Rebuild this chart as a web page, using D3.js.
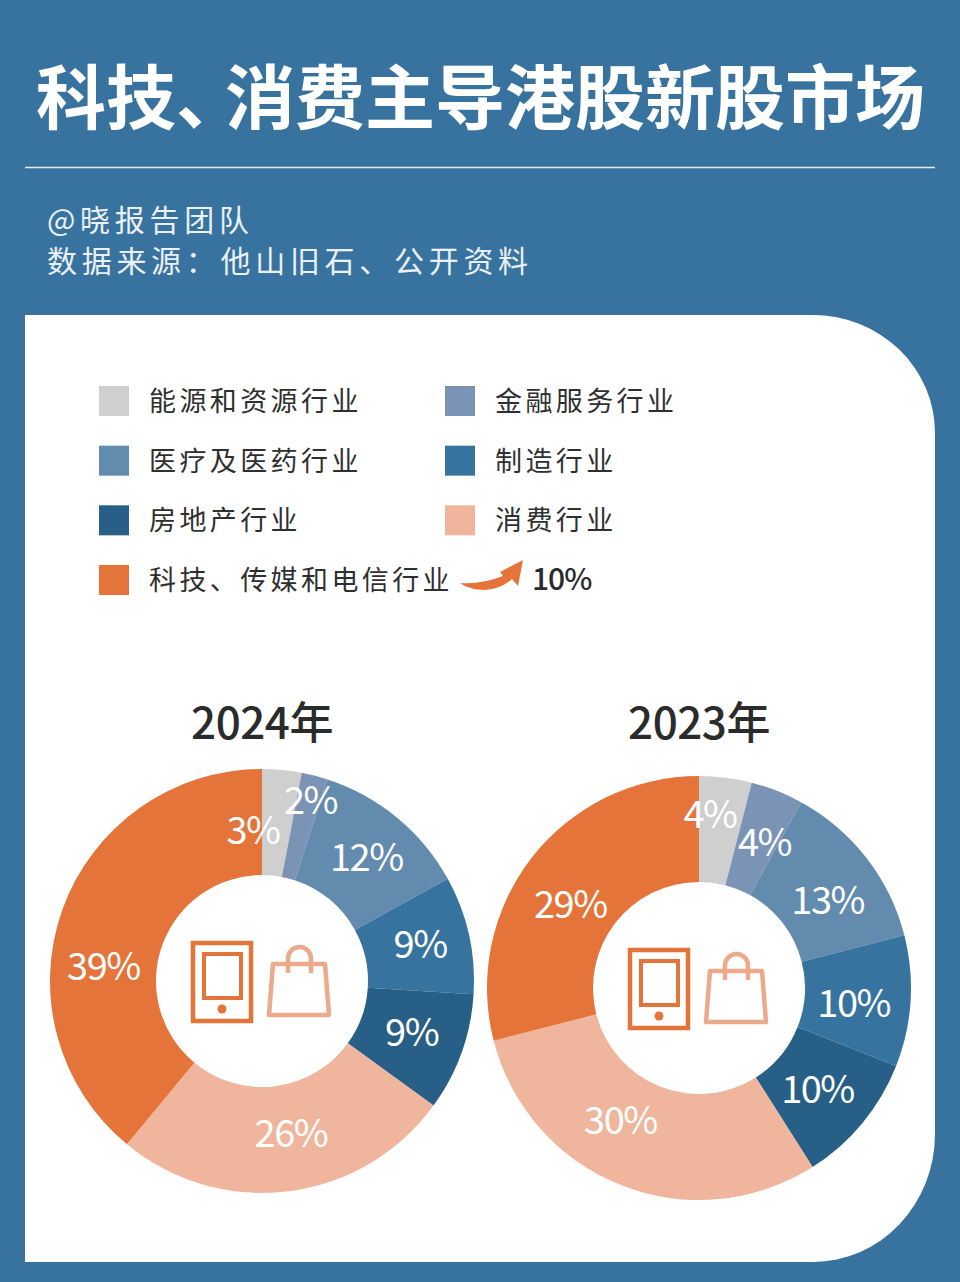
<!DOCTYPE html>
<html>
<head>
<meta charset="utf-8">
<script src="https://cdn.jsdelivr.net/npm/d3@7"></script>
<style>
html,body{margin:0;padding:0;background:#38739f;}
svg{display:block;}
text{font-family:"Noto Sans CJK SC","Noto Sans",sans-serif;}
</style>
</head>
<body>
<div class="chart"></div>
<script>
const categories = ['能源和资源行业','金融服务行业','医疗及医药行业','制造行业','房地产行业','消费行业','科技、传媒和电信行业'];
const colors = ['#cfcfcf','#7b93b5','#638bae','#37739f','#285f86','#f0b69d','#e4743a'];
const values2024 = [3,2,12,9,9,26,39];
const values2023 = [4,4,13,10,10,30,29];
const years = ['2024年','2023年'];
const titleParts = ['科技','、','消费主导港股新股市场'];
const subLines = ['@晓报告团队','数据来源\uFF1A他山旧石、公开资料'];
const arrowLabel = '10%';

const width = 960, height = 1282;
const svg = d3.select(".chart").append("svg")
	.attr("width", width)
	.attr("height", height);

svg.append("rect").attr("width", width).attr("height", height).attr("fill", "#38739f");

//Title, the 、 is tighter than a full em in the original
const title = svg.append("text")
	.attr("x", 36).attr("y", 124)
	.attr("font-size", 70)
	.attr("font-weight", 700)
	.attr("fill", "#fff");
title.append("tspan").text(titleParts[0]);
title.append("tspan").attr("letter-spacing", -21).text(titleParts[1]);
title.append("tspan").text(titleParts[2]);

svg.append("line")
	.attr("x1", 25).attr("x2", 935)
	.attr("y1", 167.5).attr("y2", 167.5)
	.attr("stroke", "#e3ecf3").attr("stroke-width", 1.4);

svg.selectAll(".sub")
	.data(subLines)
	.enter()
	.append("text")
	.attr("class", "sub")
	.attr("x", 47)
	.attr("y", (d,i)=>231 + i*41)
	.attr("font-size", 30)
	.attr("letter-spacing", 4.7)
	.attr("fill", "#eaf0f5")
	.text(d=>d);

//White panel
svg.append("path")
	.attr("d", "M25,315H813A122,118 0 0 1 935,433V1134A122,128 0 0 1 813,1262H25Z")
	.attr("fill", "#fff");

//Legend
const legendCol = d3.scalePoint().domain([0,1]).range([99,445]);
const legendRow = d3.scalePoint().domain([0,1,2,3]).range([386,565]);

const legend = svg.selectAll(".legend")
	.data(categories)
	.enter()
	.append("g")
	.attr("class", "legend")
	.attr("transform", (d,i)=>`translate(${legendCol(i%2)},${legendRow(Math.floor(i/2))})`);

legend.append("rect")
	.attr("width", 30).attr("height", 30)
	.attr("fill", (d,i)=>colors[i]);

legend.append("text")
	.attr("x", 50).attr("y", 25)
	.attr("font-size", 27)
	.attr("letter-spacing", 3.4)
	.attr("fill", "#2f2f2f")
	.text(d=>d);

//Arrow after the last legend row
svg.append("path")
	.attr("d", "M460,583 C475,584 490,581 503,576 L500,572 L523,560 L518,586 L512,579 C500,590 478,595 460,583Z")
	.attr("fill", "#e4743a");

svg.append("text")
	.attr("x", 532).attr("y", 590)
	.attr("font-size", 30)
	.attr("font-family", "'Noto Sans',sans-serif")
	.attr("font-weight", 500)
	.attr("letter-spacing", -1)
	.attr("fill", "#2b2b2b")
	.text(arrowLabel);

//Donuts
const pie = d3.pie().sort(null).value(d=>d);
const arc = d3.arc().innerRadius(106).outerRadius(212);

function drawDonut(values, year, cx, cy, nudges){
	svg.append("text")
		.attr("x", cx).attr("y", 739)
		.attr("text-anchor", "middle")
		.attr("font-size", 44)
		.attr("font-weight", 500)
		.attr("letter-spacing", -0.5)
		.attr("fill", "#2b2b2b")
		.text(year);

	const g = svg.append("g").attr("transform", `translate(${cx},${cy})`);

	g.selectAll("path")
		.data(pie(values))
		.enter()
		.append("path")
		.attr("d", arc)
		.attr("fill", (d,i)=>colors[i]);

	g.selectAll(".pct")
		.data(pie(values))
		.enter()
		.append("text")
		.attr("class", "pct")
		.attr("transform", (d,i)=>{
			const c = arc.centroid(d);
			return `translate(${c[0]+nudges[i][0]},${c[1]+nudges[i][1]})`;
		})
		.attr("text-anchor", "middle")
		.attr("dominant-baseline", "central")
		.attr("font-family", "'Noto Sans',sans-serif")
		.attr("font-size", 38)
		.attr("letter-spacing", -1.5)
		.attr("fill", "#fff")
		.text(d=>d.value + '%');

	// tablet icon
	const icon = g.append("g").attr("transform", "translate(-69,-38)");
	icon.append("rect").attr("width",58).attr("height",78)
		.attr("fill","none").attr("stroke","#e4743a").attr("stroke-width",4.5);
	icon.append("rect").attr("x",11).attr("y",11).attr("width",37).attr("height",44)
		.attr("fill","none").attr("stroke","#e4743a").attr("stroke-width",4);
	icon.append("circle").attr("cx",29).attr("cy",66).attr("r",4.5).attr("fill","#e4743a");

	// shopping bag icon
	const bag = g.append("g").attr("transform", "translate(5,-36)")
		.attr("fill","none").attr("stroke","#ecaa8a").attr("stroke-width",4.5);
	bag.append("path").attr("d","M6,19H58L62,70H2Z").attr("stroke-linejoin","round");
	bag.append("path").attr("d","M21,28V13.5A11.5,11.5 0 0 1 44,13.5V28");
}

const nudges2024 = [[-24,5],[9,-29],[3,-4],[3,-5],[0,-5],[9,-8],[-9,36]];
const nudges2023 = [[-9,-19],[7,-1],[3,7],[-4,3],[-4,-3],[-20,-18],[-3,11]];
drawDonut(values2024, years[0], 262, 981, nudges2024);
drawDonut(values2023, years[1], 699, 988, nudges2023);
</script>
</body>
</html>
